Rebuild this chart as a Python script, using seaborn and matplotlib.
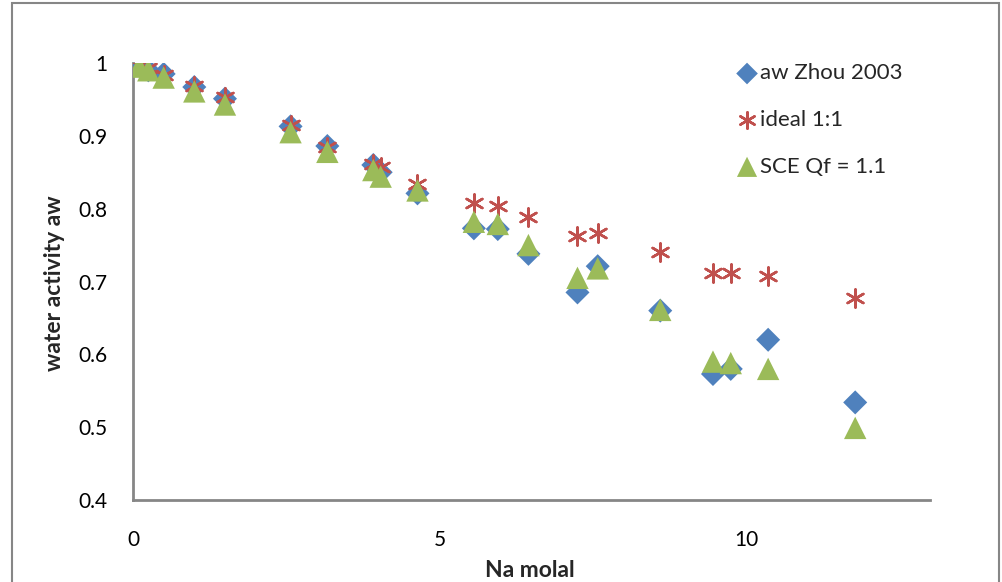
import pandas as pd
import seaborn as sns
import matplotlib.pyplot as plt
from matplotlib.patches import Rectangle
from matplotlib.ticker import MultipleLocator

# molality values (shared by all three series)
na_molal = [0.1, 0.25, 0.5, 1.0, 1.5, 2.57, 3.17, 3.92, 4.04, 4.64,
            5.56, 5.95, 6.45, 7.25, 7.58, 8.6, 9.46, 9.75, 10.36, 11.78]

aw_zhou = [0.997, 0.99, 0.985, 0.967, 0.951, 0.913, 0.886, 0.86, 0.85, 0.821,
           0.773, 0.772, 0.738, 0.685, 0.721, 0.66, 0.573, 0.58, 0.62, 0.534]

ideal = [0.997, 0.993, 0.984, 0.968, 0.953, 0.915, 0.885, 0.862, 0.857, 0.834,
         0.808, 0.804, 0.788, 0.762, 0.766, 0.74, 0.712, 0.712, 0.708, 0.677]

sce = [0.995, 0.99, 0.98, 0.961, 0.943, 0.905, 0.878, 0.853, 0.844, 0.825,
       0.782, 0.779, 0.75, 0.705, 0.718, 0.661, 0.59, 0.588, 0.58, 0.499]

series_names = ['aw Zhou 2003', 'ideal 1:1', 'SCE Qf = 1.1']

df = pd.DataFrame({'Na molal': na_molal, series_names[0]: aw_zhou,
                   series_names[1]: ideal, series_names[2]: sce})
df = pd.melt(df, id_vars='Na molal', var_name='series', value_name='aw')

sns.set_style('white')
plt.rcParams['font.family'] = ['Lato', 'DejaVu Sans']

fig = plt.figure(figsize=(10.03, 5.82), dpi=100)
ax = fig.add_axes([133 / 1003, 1 - 500 / 582, (930 - 133) / 1003, (500 - 63) / 582])

gray = '#868686'

sns.scatterplot(data=df[df['series'] == series_names[0]], x='Na molal', y='aw',
                marker='D', s=150, color='#4F81BD', edgecolor='none',
                label=series_names[0], ax=ax, zorder=3)
sns.scatterplot(data=df[df['series'] == series_names[1]], x='Na molal', y='aw',
                marker=(6, 2, 0), s=170, color='#C0504D', linewidth=1.8,
                label=series_names[1], ax=ax, zorder=4)
sns.scatterplot(data=df[df['series'] == series_names[2]], x='Na molal', y='aw',
                marker='^', s=260, color='#9BBB59', edgecolor='none',
                label=series_names[2], ax=ax, zorder=5)

ax.set_xlim(0, 13)
ax.set_ylim(0.4, 1.0)
ax.xaxis.set_major_locator(MultipleLocator(5))
ax.xaxis.set_minor_locator(MultipleLocator(1))
ax.yaxis.set_minor_locator(MultipleLocator(0.02))
ax.set_yticks([0.4, 0.5, 0.6, 0.7, 0.8, 0.9, 1.0])
ax.set_yticklabels(['0.4', '0.5', '0.6', '0.7', '0.8', '0.9', '1'])

for side in ['top', 'right']:
    ax.spines[side].set_visible(False)
for side in ['left', 'bottom']:
    ax.spines[side].set_color(gray)
    ax.spines[side].set_linewidth(2)

ax.tick_params(which='major', direction='inout', length=11, width=1.5,
               color=gray, labelsize=15, labelcolor='black')
ax.tick_params(which='minor', direction='in', length=6, width=1.2, color=gray)
ax.tick_params(axis='x', which='major', pad=16)
ax.tick_params(axis='y', which='major', pad=13)

ax.set_xlabel('Na molal', fontsize=16.5, fontweight='bold')
ax.set_ylabel('water activity aw', fontsize=16.5, fontweight='bold')
ax.xaxis.set_label_coords((530 - 133) / 797, (500 - 560) / 437)
ax.yaxis.set_label_coords((65 - 133) / 797, (500 - 283) / 437)

leg = ax.legend(loc='upper left', bbox_to_anchor=(0.73, 1.045), frameon=False,
                fontsize=16, handletextpad=0.05, labelspacing=1.2,
                handlelength=1.1, markerscale=0.9)

# outer chart border
fig.patches.append(Rectangle((12 / 1003, -0.02), 987 / 1003, 1.0 - 3 / 582 + 0.02,
                             transform=fig.transFigure, fill=False,
                             edgecolor=gray, linewidth=1.5))

fig.savefig('out.png', dpi=100)
